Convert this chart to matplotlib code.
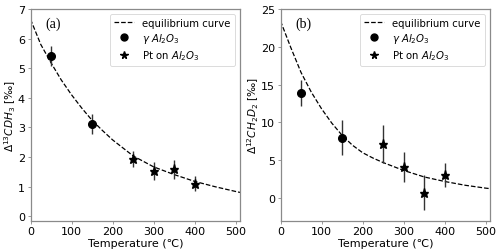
import matplotlib
matplotlib.use("Agg")
import matplotlib.pyplot as plt
from matplotlib.lines import Line2D

# equilibrium curves
T_CURVE = [0, 25, 50, 75, 100, 125, 150, 175, 200, 225, 250, 300, 350, 400, 450, 500, 510]
CDH3_CURVE = [6.65, 5.8, 5.18, 4.6, 4.1, 3.65, 3.24, 2.9, 2.58, 2.31, 2.04, 1.67, 1.41, 1.18, 1.0, 0.84, 0.81]
CH2D2_CURVE = [23.4, 19.9, 16.6, 14.0, 11.8, 9.9, 8.3, 7.0, 6.0, 5.3, 4.7, 3.66, 2.8, 2.2, 1.7, 1.32, 1.26]

# gamma Al2O3 samples
T_GAMMA = [50, 150]
CDH3_GAMMA = [5.41, 3.12]
CDH3_GAMMA_ERR = [0.35, 0.33]
CH2D2_GAMMA = [13.9, 8.0]
CH2D2_GAMMA_ERR = [1.7, 2.3]

# Pt on Al2O3 samples
T_PT = [250, 300, 350, 400]
CDH3_PT = [1.93, 1.54, 1.59, 1.11]
CDH3_PT_ERR = [0.26, 0.3, 0.32, 0.25]
CH2D2_PT = [7.2, 4.1, 0.7, 3.05]
CH2D2_PT_ERR = [2.5, 1.95, 2.3, 1.6]

SPINE = "#8a8a8a"


def panel(ax, curve, yg, yg_err, yp, yp_err, ylabel, tag, ylim, yticks):
    ax.plot(T_CURVE, curve, ls="--", color="black", lw=0.9)
    ax.errorbar(T_GAMMA, yg, yerr=yg_err, fmt="o", color="black", ms=5.5,
                ecolor="#333333", elinewidth=1.0)
    ax.errorbar(T_PT, yp, yerr=yp_err, fmt="*", color="black", ms=6.5,
                ecolor="#333333", elinewidth=1.0)
    ax.set_xlim(0, 510)
    ax.set_ylim(*ylim)
    ax.set_xticks([0, 100, 200, 300, 400, 500])
    ax.set_yticks(yticks)
    ax.set_xlabel("Temperature (℃)", fontsize=8, labelpad=1)
    ax.set_ylabel(ylabel, fontsize=7.6, labelpad=0)
    ax.tick_params(labelsize=8, length=2.5, width=0.6, color=SPINE, pad=1.5)
    for s in ax.spines.values():
        s.set_color(SPINE)
        s.set_linewidth(0.9)
    ax.text(0.07, 0.93, tag, transform=ax.transAxes, fontsize=10,
            family="Liberation Serif", ha="left", va="center")
    # legend shows bare markers, no error bar stroke
    handles = [
        Line2D([], [], ls="--", color="black", lw=0.9),
        Line2D([], [], ls="none", marker="o", color="black", ms=5),
        Line2D([], [], ls="none", marker="*", color="black", ms=5.5),
    ]
    labels = ["equilibrium curve", r"$\gamma$ $Al_2O_3$", r"Pt on $Al_2O_3$"]
    leg = ax.legend(handles, labels, loc="upper right", fontsize=7.3, handlelength=2.0,
                    borderaxespad=0.5, labelspacing=0.3, handletextpad=0.8)
    leg.get_frame().set_linewidth(0.6)


fig = plt.figure(figsize=(5.0, 2.53), dpi=100)
axL = fig.add_axes([0.061, 0.123, 0.419, 0.838])
axR = fig.add_axes([0.561, 0.123, 0.419, 0.838])

panel(axL, CDH3_CURVE, CDH3_GAMMA, CDH3_GAMMA_ERR, CDH3_PT, CDH3_PT_ERR,
      r"$\Delta^{13}CDH_3$ [‰]", "(a)", (-0.15, 7.0), range(0, 8))
panel(axR, CH2D2_CURVE, CH2D2_GAMMA, CH2D2_GAMMA_ERR, CH2D2_PT, CH2D2_PT_ERR,
      r"$\Delta^{12}CH_2D_2$ [‰]", "(b)", (-3.0, 25.0), [0, 5, 10, 15, 20, 25])

fig.savefig("out.png", dpi=100)
